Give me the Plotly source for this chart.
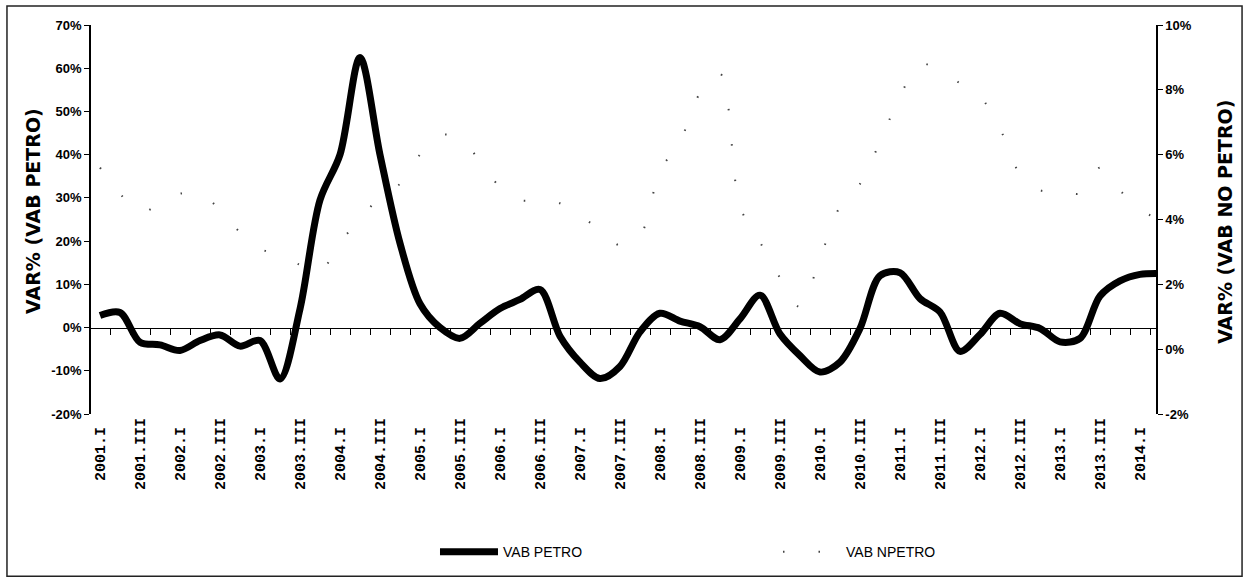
import plotly.graph_objects as go

# ---- data -------------------------------------------------------------
years = list(range(2001, 2015))
quarter_names = ["I", "II", "III", "IV"]
quarters = [f"{y}.{q}" for y in years for q in quarter_names][:54]   # 2001.I .. 2014.II

vab_petro = [2.8, 3.5, -3.4, -4.0, -5.3, -3.0, -1.7, -4.3, -3.0, -11.9,
             4.3, 29.5, 40.0, 62.5, 40.0, 19.5, 5.5, 0.0, -2.5, 1.0,
             4.4, 6.5, 8.8, -2.0, -8.0, -11.8, -9.0, -1.0, 3.3, 1.5,
             0.2, -2.8, 2.0, 7.5, -1.5, -6.5, -10.3, -8.0, -0.2, 12.0,
             12.7, 6.7, 3.6, -5.5, -1.6, 3.3, 0.9, -0.2, -3.3, -2.5,
             7.3, 10.8, 12.3, 12.5]

vab_npetro = [5.6, 4.8, 4.2, 4.5, 4.8, 4.8, 4.3, 3.6, 3.1, 2.9,
              2.6, 2.4, 3.3, 4.0, 4.7, 5.1, 6.0, 6.6, 6.5, 5.8,
              5.0, 4.6, 4.6, 4.5, 4.1, 3.7, 3.2, 3.5, 5.5, 6.4,
              7.9, 8.5, 4.4, 3.3, 2.2, 1.3, 2.8, 4.4, 5.1, 6.4,
              7.8, 8.8, 8.6, 8.2, 7.8, 6.8, 5.4, 4.9, 4.9, 4.8,
              5.6, 4.9, 4.3, 4.0]

tick_quarters = quarters[0:53:2]            # 2001.I, 2001.III, ... 2014.I
NB = "\u00a0"
tick_text = [(NB + q + NB) if q.endswith(".I") else q for q in tick_quarters]

left_ticks = [-20, -10, 0, 10, 20, 30, 40, 50, 60, 70]
right_ticks = [-2, 0, 2, 4, 6, 8, 10]
left_text = [f"{v}%" for v in left_ticks]
right_text = [f"{v}%" for v in right_ticks]

# ---- figure -----------------------------------------------------------
XR = [-0.45, 52.8]
tick_font = dict(family="Liberation Sans, Arial, sans-serif", size=13, color="black", weight="bold")
title_font = dict(family="DejaVu Sans, Verdana, sans-serif", size=19, color="black", weight="bold")

fig = go.Figure()
fig.add_trace(go.Scatter(
    x=quarters, y=vab_petro, name="VAB PETRO", mode="lines",
    line=dict(color="black", width=7, shape="spline", smoothing=0.9),
    yaxis="y", xaxis="x"))
fig.add_trace(go.Scatter(
    x=quarters, y=vab_npetro, name="VAB NPETRO", mode="lines",
    line=dict(color="#444444", width=2, dash="1.5px,34px", shape="spline", smoothing=0.9),
    yaxis="y2", xaxis="x"))
# carrier for the zero-crossing category axis
fig.add_trace(go.Scatter(x=[], y=[], xaxis="x2", yaxis="y", showlegend=False, hoverinfo="skip"))

fig.update_layout(
    width=1244, height=579,
    margin=dict(l=91, r=88, t=25, b=165, pad=0, autoexpand=False),
    paper_bgcolor="white", plot_bgcolor="white",
    showlegend=True,
    legend=dict(orientation="h", x=0.323, xanchor="left", y=-0.355, yanchor="middle",
                itemwidth=58, entrywidth=270, entrywidthmode="pixels",
                font=dict(family="Liberation Sans Narrow, Liberation Sans, Arial", size=14, color="black"),
                bgcolor="rgba(0,0,0,0)", tracegroupgap=0),
    xaxis=dict(type="category", categoryorder="array", categoryarray=quarters,
               range=XR, tickmode="array", tickvals=tick_quarters, ticktext=tick_text,
               tickangle=-90, ticks="", showline=False, showgrid=False, zeroline=False,
               automargin=False,
               tickfont=dict(family="Liberation Mono, DejaVu Sans Mono, monospace", size=15,
                             color="black", weight="bold")),
    xaxis2=dict(overlaying="x", anchor="free", position=20/90, range=XR,
                tickmode="array", tickvals=[k + 0.5 for k in range(53)],
                ticks="outside", ticklen=6, tickwidth=1, tickcolor="black",
                showticklabels=False, showline=True, linecolor="black", linewidth=1,
                showgrid=False, zeroline=False),
    yaxis=dict(range=[-20, 70], tickmode="array", tickvals=left_ticks, ticktext=left_text,
               ticks="outside", ticklen=5, tickcolor="black", automargin=False,
               showline=True, linecolor="black", linewidth=1.5, showgrid=False,
               zeroline=False, tickfont=tick_font),
    yaxis2=dict(range=[-2, 10], tickmode="array", tickvals=right_ticks, ticktext=right_text,
                overlaying="y", side="right", anchor="x", ticks="outside", ticklen=5,
                tickcolor="black", showline=True, linecolor="black", linewidth=1.5,
                showgrid=False, zeroline=False, tickfont=tick_font, automargin=False),
    annotations=[
        dict(text="VAR% (VAB PETRO)", textangle=-90, xref="paper", yref="paper",
             x=-0.0545, y=0.522, xanchor="center", yanchor="middle", showarrow=False,
             font=title_font),
        dict(text="VAR% (VAB NO PETRO)", textangle=-90, xref="paper", yref="paper",
             x=1.0648, y=0.494, xanchor="center", yanchor="middle", showarrow=False,
             font=title_font),
    ],
    shapes=[dict(type="rect", xref="paper", yref="paper",
                 x0=-0.0789, x1=1.0808, y0=-0.417, y1=1.0488,
                 line=dict(color="#222222", width=1.5), fillcolor="rgba(0,0,0,0)", layer="below")],
)

fig.write_html("out.html")
